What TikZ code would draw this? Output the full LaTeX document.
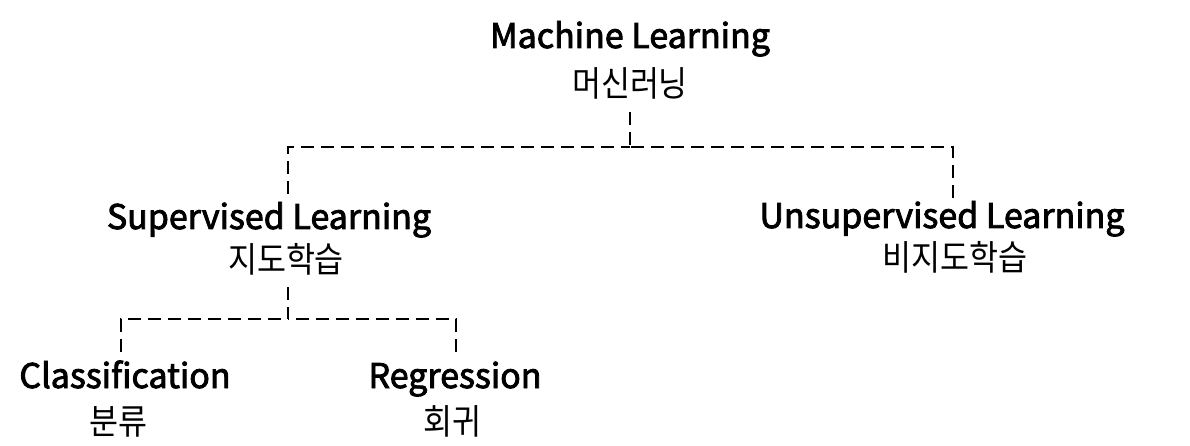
\documentclass[tikz,border=0pt]{standalone}
\usepackage{fontspec}
\setmainfont{Noto Sans CJK KR}
\newfontfamily\enfont[FakeBold=2.5]{Noto Sans CJK KR}
\newfontfamily\krfont[FakeStretch=0.9]{Noto Sans CJK KR}
\begin{document}
\begin{tikzpicture}[x=1pt,y=-1pt,
  en/.style={font=\enfont\fontsize{34}{40}\selectfont, anchor=base, inner sep=0pt},
  kr/.style={font=\krfont\fontsize{35}{40}\selectfont, anchor=base, inner sep=0pt},
  conn/.style={draw=black, line width=2.8pt, dash pattern=on 13pt off 7pt}]
\useasboundingbox[fill=white] (0,0) rectangle (1190,446);
% nodes
\node[en] (ml) at (630,48) {Machine Learning};
\node[kr] (mlk) at (630,97) {머신러닝};
\node[en] (sl) at (269,229) {Supervised Learning};
\node[kr] (slk) at (286,272) {지도학습};
\node[en] (ul) at (942,228) {Unsupervised Learning};
\node[kr] (ulk) at (955,270) {비지도학습};
\node[en] (cl) at (125,388) {Classification};
\node[kr] (clk) at (118,434) {분류};
\node[en] (rg) at (455,388) {Regression};
\node[kr] (rgk) at (452,434) {회귀};
% junction coordinates
\coordinate (t0) at (630,112);
\coordinate (j0) at (630,147);
\coordinate (b1) at (288,194);
\coordinate (b2) at (953,198);
\coordinate (t1) at (288,287);
\coordinate (j1) at (288,319);
\coordinate (b3) at (121,352);
\coordinate (b4) at (456,352);
% connectors
\draw[conn] (t0) -- (j0);
\draw[conn] (b1) |- (j0);
\draw[conn] (b2) |- (j0);
\draw[conn] (t1) -- (j1);
\draw[conn] (b3) |- (j1);
\draw[conn] (b4) |- (j1);
\end{tikzpicture}
\end{document}
